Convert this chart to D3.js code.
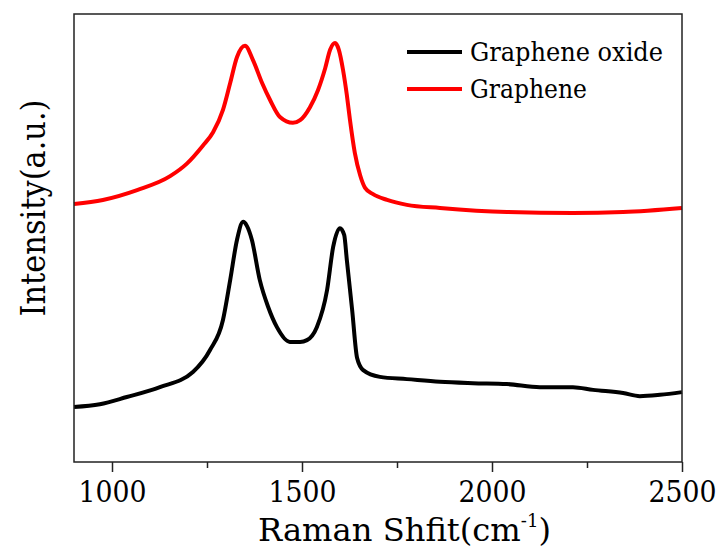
<!DOCTYPE html>
<html>
<head>
<meta charset="utf-8">
<script src="https://cdn.jsdelivr.net/npm/d3@7"></script>
<style>
  body { margin: 0; background: #fff; }
  svg text { font-family: "DejaVu Serif", "Liberation Serif", serif; fill: #000; }
</style>
</head>
<body>
<div id="chart-area"></div>
<script>
// Raman spectra (intensity in arbitrary units)
const goShift = [900, 968, 1039, 1126, 1213, 1258, 1292, 1311, 1329, 1345, 1355, 1368, 1389, 1411, 1434, 1468, 1495, 1513, 1539, 1566, 1582, 1600, 1611, 1618, 1632, 1645, 1661, 1705, 1776, 1863, 1950, 2039, 2126, 2213, 2266, 2345, 2389, 2442, 2500]
const goIntensity = [12.3, 12.9, 14.5, 16.7, 20.1, 25.0, 31.7, 40.6, 49.6, 53.6, 52.7, 49.6, 40.6, 34.6, 30.1, 26.8, 26.8, 27.2, 30.1, 38.4, 48.0, 52.2, 50.7, 45.1, 33.9, 23.2, 20.5, 19.0, 18.5, 17.9, 17.6, 17.4, 16.7, 16.7, 16.1, 15.4, 14.7, 15.0, 15.6]

const grShift = [900, 976, 1066, 1153, 1197, 1239, 1266, 1292, 1311, 1329, 1350, 1371, 1395, 1416, 1442, 1476, 1495, 1521, 1542, 1561, 1574, 1587, 1597, 1608, 1618, 1626, 1639, 1653, 1666, 1687, 1724, 1776, 1863, 2039, 2213, 2345, 2500]
const grIntensity = [57.6, 58.5, 60.7, 63.8, 66.6, 70.6, 73.6, 78.6, 84.6, 90.4, 92.9, 89.7, 84.6, 80.8, 77.0, 75.7, 76.3, 79.2, 83.0, 87.9, 92.0, 93.5, 92.0, 87.5, 81.9, 76.5, 69.0, 64.0, 61.2, 59.8, 58.5, 57.4, 56.7, 55.8, 55.6, 55.8, 56.7]

const majorTicks = [1000, 1500, 2000, 2500]
const minorTicks = [1250, 1750, 2250]
const seriesNames = ["Graphene oxide", "Graphene"]
const seriesColors = ["#000000", "#ff0000"]

width = 724
height = 551
let margin = {left: 74, right: 42, top: 14, bottom: 89}

let xScale = d3.scaleLinear().domain([900, 2500]).range([margin.left, width - margin.right])
let yScale = d3.scaleLinear().domain([0, 100]).range([height - margin.bottom, margin.top])

let svg = d3.select("#chart-area")
  .append("svg")
  .attr("width", width)
  .attr("height", height)

let series = [
  {name: seriesNames[0], color: seriesColors[0], pts: goShift.map((s, i) => [s, goIntensity[i]])},
  {name: seriesNames[1], color: seriesColors[1], pts: grShift.map((s, i) => [s, grIntensity[i]])}
]

let line = d3.line()
  .x(d => xScale(d[0]))
  .y(d => yScale(d[1]))
  .curve(d3.curveMonotoneX)

svg.selectAll("path.spec")
  .data(series)
  .enter().append("path")
  .attr("class", "spec")
  .attr("d", d => line(d.pts))
  .attr("fill", "none")
  .attr("stroke", d => d.color)
  .attr("stroke-width", 4)
  .attr("stroke-linejoin", "round")

// frame
svg.append("rect")
  .attr("x", xScale(900))
  .attr("y", yScale(100))
  .attr("width", xScale(2500) - xScale(900))
  .attr("height", yScale(0) - yScale(100))
  .attr("fill", "none")
  .attr("stroke", "#222")
  .attr("stroke-width", 1.5)

// bottom axis, major + minor ticks
let xAxis = d3.axisBottom(xScale).tickValues(majorTicks).tickSize(10).tickPadding(9).tickFormat(d3.format("d"))
let gx = svg.append("g")
  .attr("transform", "translate(0," + yScale(0) + ")")
  .call(xAxis)
gx.attr("font-family", null)
gx.select(".domain").remove()
gx.selectAll("line").attr("stroke", "#222").attr("stroke-width", 1.5)
gx.selectAll("text")
  .attr("font-size", 30)
  .attr("textLength", 68)
  .attr("lengthAdjust", "spacingAndGlyphs")

let gxMinor = svg.append("g")
  .attr("transform", "translate(0," + yScale(0) + ")")
  .call(d3.axisBottom(xScale).tickValues(minorTicks).tickSize(6).tickFormat(""))
gxMinor.select(".domain").remove()
gxMinor.selectAll("line").attr("stroke", "#222").attr("stroke-width", 1.5)

// axis titles
let xt = svg.append("text")
  .attr("x", 258)
  .attr("y", 541)
  .attr("font-size", 32)
  .attr("textLength", 293)
  .attr("lengthAdjust", "spacingAndGlyphs")
xt.append("tspan").text("Raman Shfit(cm")
xt.append("tspan").attr("font-size", 18).attr("dy", -14).text("-1")
xt.append("tspan").attr("dy", 14).text(")")

svg.append("text")
  .attr("transform", "translate(45,208) rotate(-90)")
  .attr("text-anchor", "middle")
  .attr("font-size", 33)
  .attr("textLength", 217)
  .attr("lengthAdjust", "spacingAndGlyphs")
  .text("Intensity(a.u.)")

// legend
let legendWidths = [193, 117]
let legend = svg.selectAll("g.leg")
  .data(series)
  .enter().append("g")
  .attr("class", "leg")
  .attr("transform", (d, i) => "translate(407," + (52 + i * 37) + ")")

legend.append("line")
  .attr("x1", 0).attr("x2", 55)
  .attr("stroke", d => d.color)
  .attr("stroke-width", 4)

legend.append("text")
  .attr("x", 63)
  .attr("y", 9)
  .attr("font-size", 26)
  .attr("textLength", (d, i) => legendWidths[i])
  .attr("lengthAdjust", "spacingAndGlyphs")
  .text(d => d.name)
</script>
</body>
</html>
